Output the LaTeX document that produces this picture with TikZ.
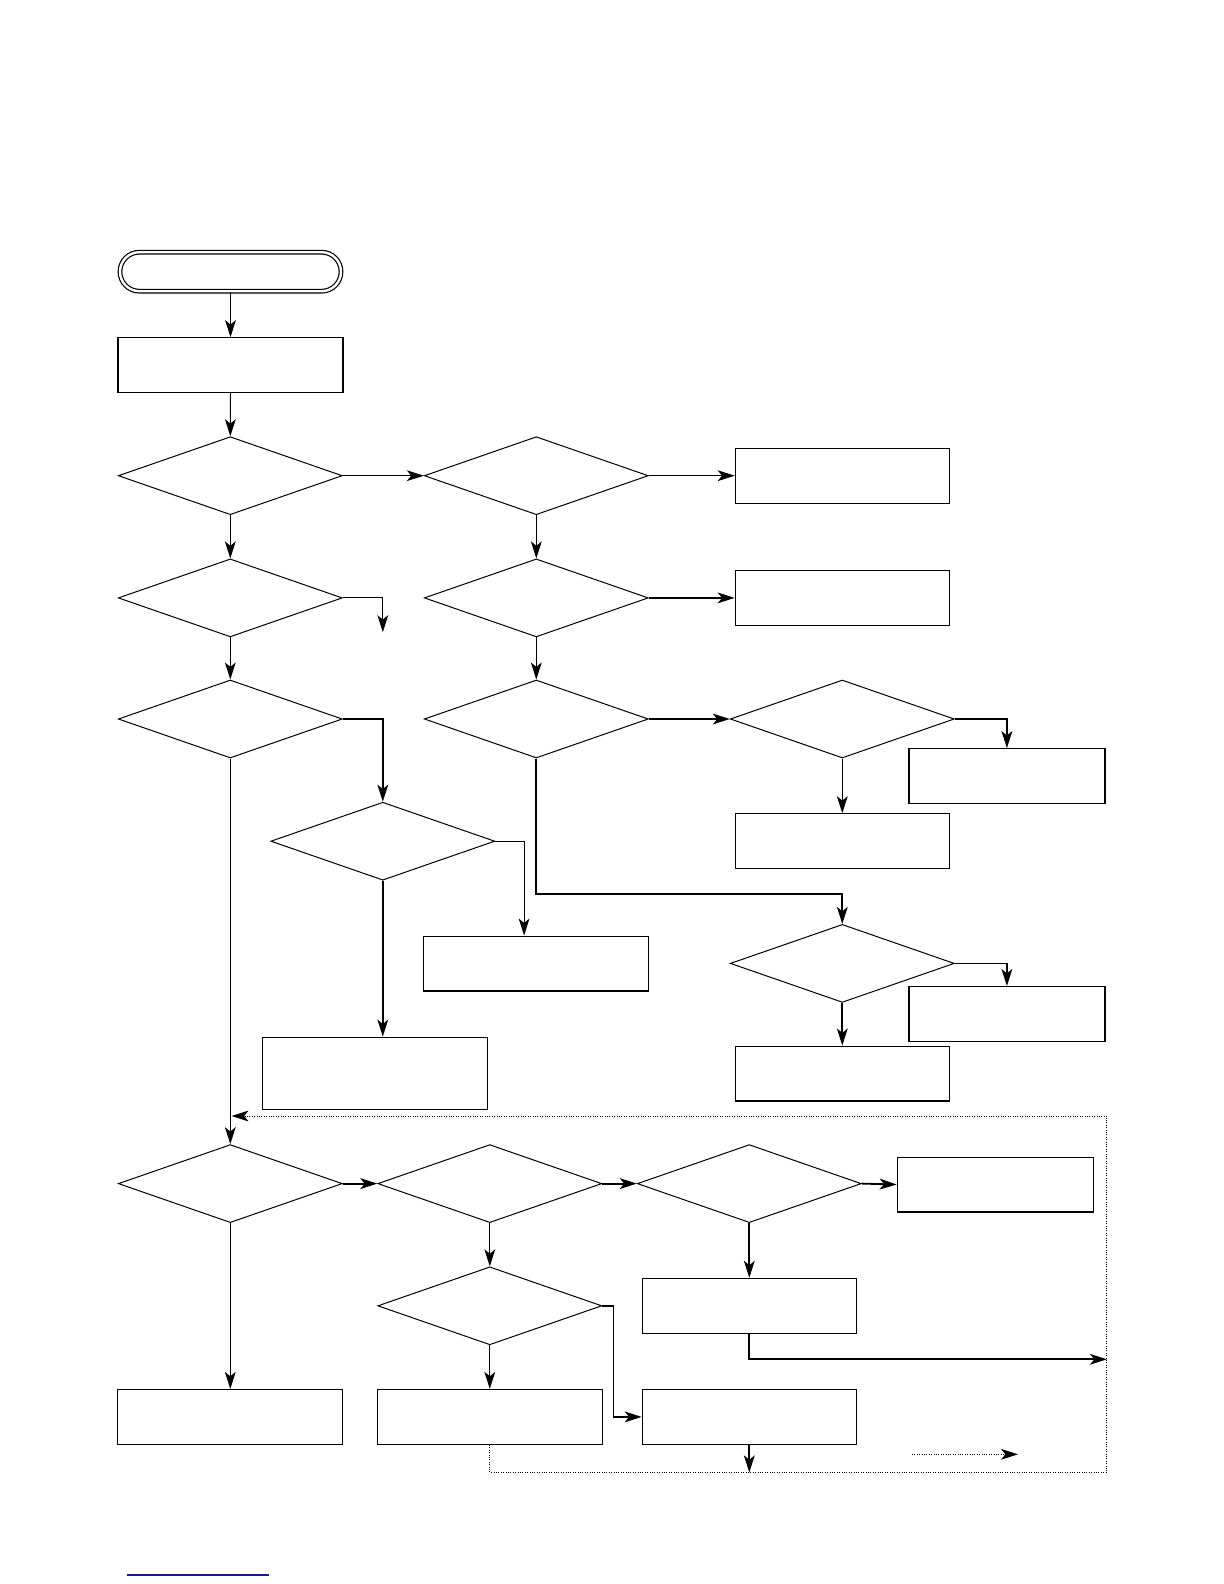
\documentclass[tikz,border=0pt]{standalone}
\usepackage{tikz}
\usetikzlibrary{shapes.geometric,arrows.meta,calc}
\definecolor{linkblue}{RGB}{25,25,150}
\tikzset{
  proc/.style={draw,line width=0.6pt,inner sep=0pt,minimum height=27.4pt},
  wbox/.style={proc,minimum width=112.5pt},
  mbox/.style={proc,minimum width=107pt},
  sbox/.style={proc,minimum width=98pt},
  test/.style={diamond,draw,line width=0.5pt,inner sep=0pt,minimum width=112pt,minimum height=39pt},
  flow/.style={-{Stealth[length=8.5pt,width=5.4pt,inset=2.2pt]},line width=0.5pt},
  flowthick/.style={flow,line width=0.9pt},
  loopback/.style={dash pattern=on 0.5pt off 0.7pt},
}

\begin{document}
\begin{tikzpicture}[x=0.5pt,y=-0.5pt]
	\useasboundingbox (0,0) rectangle (1224,1584);
	\def\colA{230.3}
	\def\colB{536.3}
	\def\colC{842.3}
	% upper part
	\node[draw,line width=0.6pt,double=white,double distance=1.2pt,rounded corners=9.7pt,
		minimum width=110.5pt,minimum height=19.5pt,inner sep=0pt] (start) at (230.5,271.7) {};
	\node[wbox] (init) at (230.5,365.1) {};
	\node[test] (qA1) at (\colA,475.7) {};
	\node[test] (qB1) at (\colB,475.7) {};
	\node[mbox] (outB1) at (\colC,475.7) {};
	\node[test] (qA2) at (\colA,597.9) {};
	\node[test] (qB2) at (\colB,597.9) {};
	\node[mbox] (outB2) at (\colC,597.9) {};
	\coordinate (stubA2) at (382.8,632.2);
	\node[test] (qA3) at (\colA,719) {};
	\node[test] (qB3) at (\colB,719) {};
	\node[test] (qC3) at (\colC,719) {};
	\node[sbox] (outC3r) at (1006.9,776.1) {};
	\node[mbox] (outC3d) at (\colC,841.2) {};
	\node[test] (qA4) at (382.8,841.2) {};
	\node[wbox] (outA4r) at (535.8,963.5) {};
	\node[wbox,minimum height=36.35pt] (outA4d) at (375.2,1073.5) {};
	\node[test] (qC4) at (\colC,963.4) {};
	\node[sbox] (outC4r) at (1006.9,1014) {};
	\node[mbox] (outC4d) at (\colC,1073.5) {};
	% lower part
	\node[test] (qA5) at (\colA,1183.6) {};
	\node[test] (qB5) at (489.8,1183.6) {};
	\node[test] (qC5) at (749.3,1183.6) {};
	\node[sbox] (outC5r) at (995.3,1184.5) {};
	\node[mbox] (outC5d) at (749.3,1305.8) {};
	\node[test] (qB6) at (489.8,1305.8) {};
	\node[wbox] (outA5) at (\colA,1416.9) {};
	\node[wbox] (outB6d) at (489.8,1416.9) {};
	\node[mbox] (outB6r) at (749.3,1416.9) {};
	\coordinate (retR) at (1106.9,1359.3);
	\coordinate (exitC) at (749.3,1472.4);
	\coordinate (loopSE) at (1106.9,1472.4);
	\coordinate (retA) at (231.5,1116);
	\coordinate (keyL) at (911.9,1454.3);
	\coordinate (keyR) at (1018,1454.3);

	\draw[flow] (start.south) -- (init.north);
	\draw[flow] (init.south) -- (qA1.north);
	\draw[flow] (qA1.east) -- (qB1.west);
	\draw[flow] (qB1.east) -- (outB1.west);
	\draw[flow] (qA1.south) -- (qA2.north);
	\draw[flow] (qB1.south) -- (qB2.north);
	\draw[flow] (qA2.east) -| (stubA2);
	\draw[flowthick] (qB2.east) -- (outB2.west);
	\draw[flow] (qA2.south) -- (qA3.north);
	\draw[flow] (qB2.south) -- (qB3.north);
	\draw[flowthick] (qB3.east) -- (qC3.west);
	\draw[flowthick] (qC3.east) -| (outC3r.north);
	\draw[flow] (qC3.south) -- (outC3d.north);
	\draw[flowthick] (qA3.east) -| (qA4.north);
	\draw[flow] (qA4.east) -| ([xshift=-5.85pt]outA4r.north);
	\draw[flowthick] (qA4.south) -- (qA4.south |- outA4d.north);
	\draw[flowthick] (qB3.south) |- ([yshift=15.15pt]qC4.north) -- (qC4.north);
	\draw[flowthick] (qC4.east) -| (outC4r.north);
	\draw[flowthick] (qC4.south) -- (outC4d.north);
	\draw[flow] (qA3.south) -- (qA5.north);
	\draw[flowthick] (qA5.east) -- (qB5.west);
	\draw[flowthick] (qB5.east) -- (qC5.west);
	\draw[flowthick] (qC5.east) -- (outC5r.west);
	\draw[flowthick] (qC5.south) -- (outC5d.north);
	\draw[flowthick] (outC5d.south) |- (retR);
	\draw[flow] (qB5.south) -- (qB6.north);
	\draw[flowthick] (qB6.east) -- ++(11.1,0) |- (outB6r.west);
	\draw[flow] (qB6.south) -- (outB6d.north);
	\draw[flow] (qA5.south) -- (outA5.north);
	\draw[flowthick] (outB6r.south) -- (exitC);
	% return path
	\draw[flow,loopback] (outB6d.south) |- (loopSE) |- (retA);
	\draw[flow,loopback] (keyL) -- (keyR);
	\draw[linkblue,line width=0.7pt] (127,1575) -- (269,1575);
\end{tikzpicture}
\end{document}
